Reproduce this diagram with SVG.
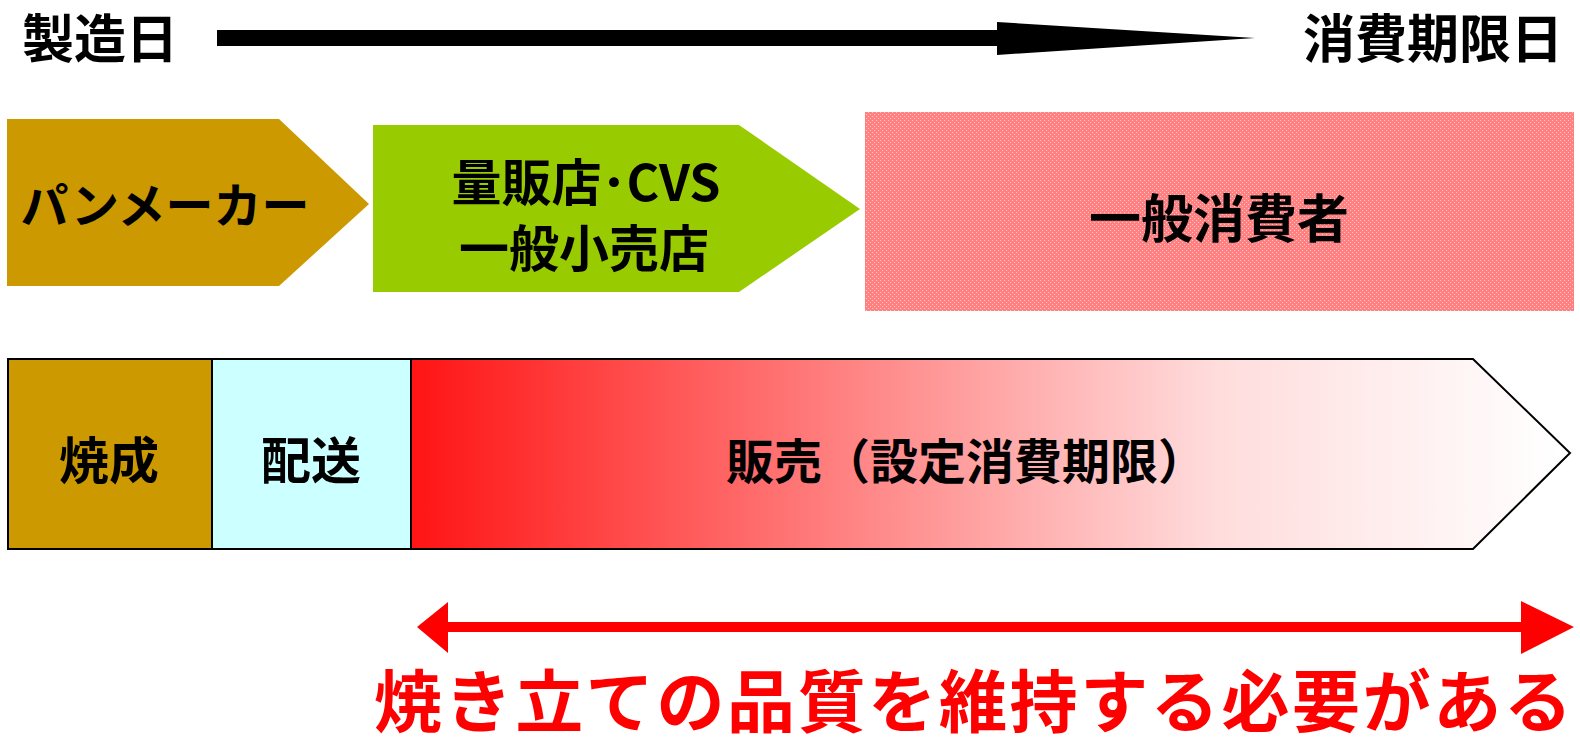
<svg xmlns="http://www.w3.org/2000/svg" width="1580" height="747" viewBox="0 0 1580 747">
<style>
  .t { font-family: "Noto Sans CJK JP", "Liberation Sans", sans-serif; font-weight: bold; fill: #000; text-anchor: middle; }
  .red { fill: #FF0000; }
  .box { stroke: #000; stroke-width: 2; }
</style>
<defs>
  <pattern id="dots" width="4" height="4" patternUnits="userSpaceOnUse">
    <rect width="4" height="4" fill="#FF8080"/>
    <rect x="0" y="0" width="1" height="1" fill="#FFC8C8"/>
    <rect x="2" y="2" width="1" height="1" fill="#FFC8C8"/>
  </pattern>
  <linearGradient id="grad" x1="411" y1="0" x2="1560" y2="0" gradientUnits="userSpaceOnUse">
    <stop offset="0" stop-color="#FF1414"/>
    <stop offset="0.35" stop-color="#FF7A7A"/>
    <stop offset="0.7" stop-color="#FFDCDC"/>
    <stop offset="1" stop-color="#FFFFFF"/>
  </linearGradient>
</defs>

<g id="timeline">
  <text class="t" x="22" y="58" font-size="52" style="text-anchor:start">製造日</text>
  <text class="t" x="1563" y="58" font-size="52" style="text-anchor:end">消費期限日</text>
</g>

<g id="connectors">
  <polygon points="217,30 997,30 997,22 1255,38 997,55 997,46 217,46" fill="#000"/>
  <polygon points="417,627 448,602 448,622 1521,622 1521,601 1574,627 1521,654 1521,632 448,632 448,653" fill="#FF0000"/>
</g>

<g id="node-maker">
  <polygon points="7,119 279,119 369,204 279,286 7,286" fill="#CC9900"/>
  <text class="t" x="165" y="223" font-size="48">パンメーカー</text>
</g>

<g id="node-retail">
  <polygon points="373,125 739,125 860,209 739,292 373,292" fill="#99CC00"/>
  <text class="t" x="586" y="201" font-size="50">量販店･CVS</text>
  <text class="t" x="584" y="267" font-size="50">一般小売店</text>
</g>

<g id="node-consumer">
  <rect x="865" y="112" width="709" height="199" fill="url(#dots)"/>
  <text class="t" x="1219" y="238" font-size="52">一般消費者</text>
</g>

<g id="node-bake">
  <rect class="box" x="8" y="359" width="204" height="190" fill="#CC9900"/>
  <text class="t" x="109" y="479" font-size="50">焼成</text>
</g>

<g id="node-delivery">
  <rect class="box" x="212" y="359" width="199" height="190" fill="#CCFFFF"/>
  <text class="t" x="311" y="479" font-size="50">配送</text>
</g>

<g id="node-sales">
  <polygon class="box" points="411,359 1473,359 1570,453 1473,549 411,549" fill="url(#grad)"/>
  <text class="t" x="966" y="479" font-size="48">販売（設定消費期限）</text>
</g>

<g id="note">
  <text class="t red" x="973" y="727" font-size="68" textLength="1198" lengthAdjust="spacing">焼き立ての品質を維持する必要がある</text>
</g>
</svg>
